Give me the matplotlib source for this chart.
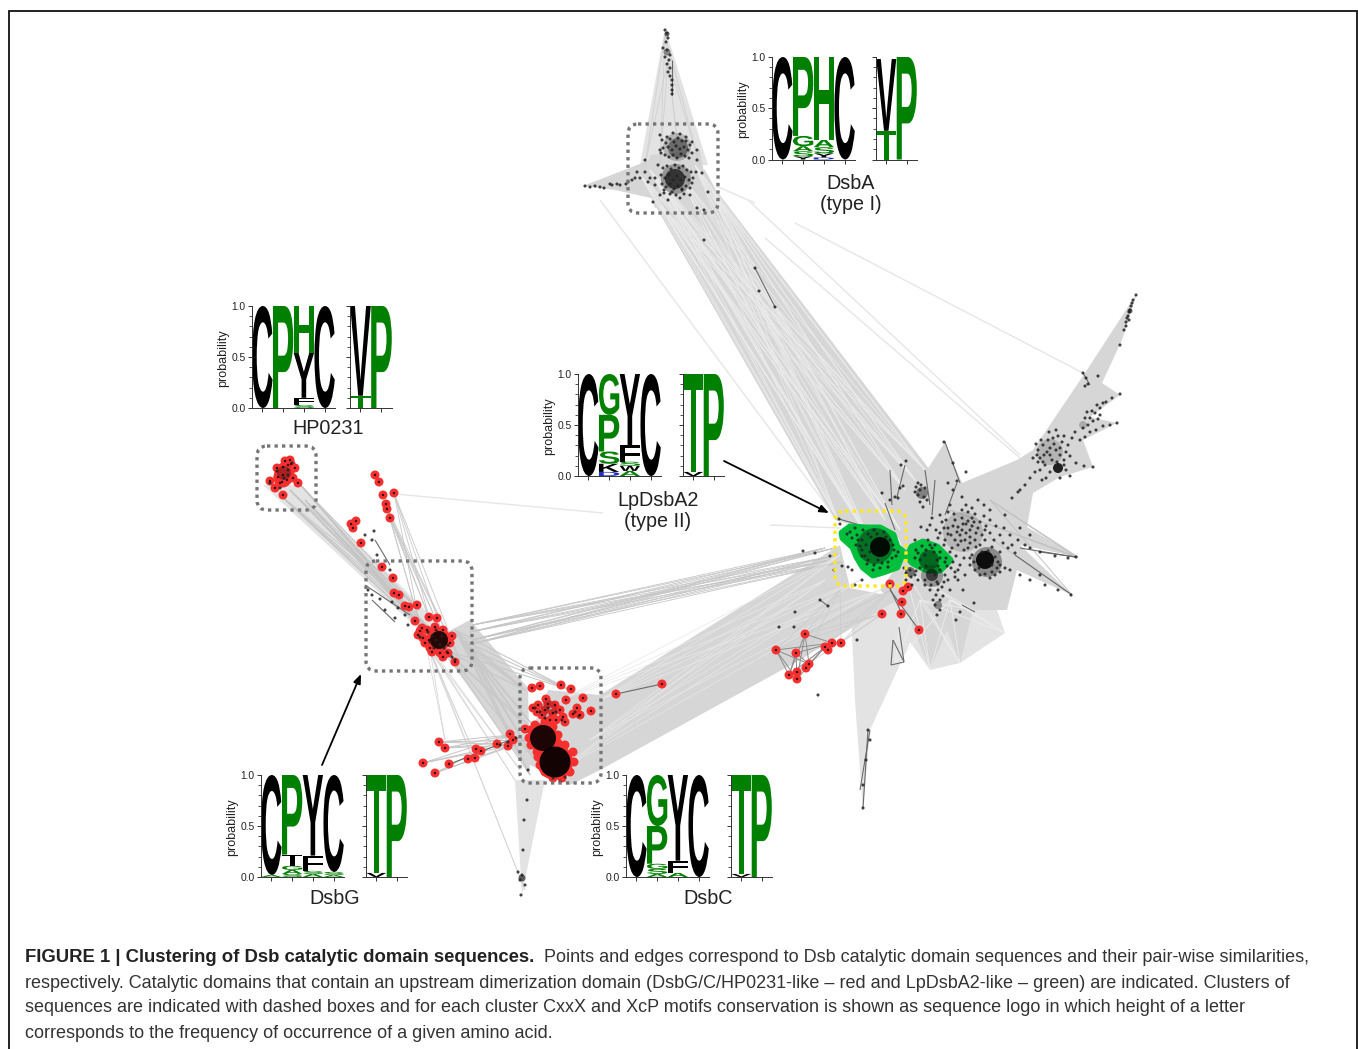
import matplotlib
matplotlib.use("Agg")
import matplotlib.pyplot as plt
from matplotlib.collections import LineCollection
from matplotlib.font_manager import FontProperties
from matplotlib.patches import Polygon, PathPatch, FancyBboxPatch, Circle, Ellipse
from matplotlib.textpath import TextPath
from matplotlib.transforms import Affine2D

plt.rcParams['font.family'] = ['Liberation Sans', 'DejaVu Sans']

# ---------- sequence logos: position stacks, bottom to top (letter, probability, colour key)
LOGO_DSBA_1 = [[('C',1,'k')],
               [('Y',.03,'k'),('S',.05,'g'),('A',.05,'g'),('G',.10,'g'),('P',.77,'g')],
               [('D',.02,'b'),('Y',.04,'k'),('S',.06,'g'),('A',.07,'g'),('H',.81,'g')],
               [('C',1,'k')]]
LOGO_DSBA_2 = [[('T',.28,'g'),('V',.70,'k')], [('P',1,'g')]]
LOGO_HP_1 = [[('C',1,'k')],
             [('P',1,'g')],
             [('S',.03,'g'),('F',.07,'k'),('Y',.44,'k'),('H',.46,'g')],
             [('C',1,'k')]]
LOGO_HP_2 = [[('T',.12,'g'),('V',.88,'k')], [('P',1,'g')]]
LOGO_LP_1 = [[('C',1,'k')],
             [('D',.04,'b'),('K',.08,'k'),('S',.12,'g'),('P',.36,'g'),('G',.40,'g')],
             [('A',.05,'g'),('W',.05,'k'),('S',.04,'g'),('F',.16,'k'),('Y',.70,'k')],
             [('C',1,'k')]]
LOGO_LP_2 = [[('V',.04,'k'),('T',.96,'g')], [('P',1,'g')]]
LOGO_G_1 = [[('A',.02,'g'),('C',.98,'k')],
            [('S',.03,'g'),('A',.04,'g'),('G',.04,'g'),('T',.11,'k'),('P',.78,'g')],
            [('A',.03,'g'),('S',.03,'g'),('F',.15,'k'),('Y',.79,'k')],
            [('A',.02,'g'),('S',.03,'g'),('C',.95,'k')]]
LOGO_G_2 = [[('V',.04,'k'),('T',.96,'g')], [('P',1,'g')]]
LOGO_C_1 = [[('C',1,'k')],
            [('A',.03,'g'),('S',.05,'g'),('G',.05,'g'),('P',.37,'g'),('G',.50,'g')],
            [('A',.04,'g'),('F',.12,'k'),('Y',.84,'k')],
            [('C',1,'k')]]
LOGO_C_2 = [[('V',.03,'k'),('T',.97,'g')], [('P',1,'g')]]

LOGO_NAMES = ['DsbA\n(type I)', 'HP0231', 'LpDsbA2\n(type II)', 'DsbG', 'DsbC']
TICK_LABELS = ['0.0', '0.5', '1.0']

# ---------- network: red nodes
RED_HP = [(270,481),(277,468),(278,477),(283,467),(290,460),(295,468),(288,465),(283,475),(280,483),
          (275,488),(283,495),(293,478),(298,483),(287,480),(282,482),(291,464),(285,461)]
RED_CHAIN = [(375,475),(379,482),(383,495),(394,493),(386,504),(387,509),(390,518),
             (356,521),(351,524),(353,528),(361,543),
             (382,567),(393,578),(394,593),(399,595),(405,606),(409,607),(417,605),(429,617),(437,618),(415,621)]
RED_G = [(422,628),(418,635),(423,638),(430,648),(452,636),(455,662),(448,653),(440,653),(435,627),(427,630),
         (443,630),(450,643),(443,657),(432,652),(425,643),(420,631),(429,640),(438,632),(446,640)]
RED_C = [(532,688),(540,686),(561,685),(571,689),(546,699),(566,700),(583,698),(591,711),(616,694),(662,684),
         (533,708),(538,705),(545,710),(555,705),(553,713),(560,710),(542,715),(550,720),(563,717),(565,722),
         (577,708),(573,714),(580,715),(525,729),(548,704),(537,712),(556,720)]
RED_C_RING = [(531,730),(535,725),(545,722),(553,727),(558,735),(558,743),(553,750),(547,754),(537,752),(531,745),(529,738),
              (545,750),(555,748),(565,745),(573,752),(574,762),(570,772),(562,778),(553,778),(545,772),(540,765),(538,757)]
RED_BL = [(439,742),(445,748),(423,763),(449,764),(435,773),(468,759),(475,758),(476,749),(481,751),(497,744),
          (508,746),(510,734),(513,740)]
RED_R = [(890,584),(903,591),(908,587),(902,602),(901,614),(882,614),(919,630),(805,634),(776,650),(796,653),
         (825,647),(828,650),(832,643),(841,643),(809,664),(806,668),(797,672),(789,675),(797,679)]

# ---------- network: black nodes
BLK_MAIN = [(930,525),(936,530),(942,522),(948,528),(951,535),(945,540),(938,538),(955,520),(958,527),(962,518),
 (966,524),(970,530),(974,522),(978,528),(982,535),(986,526),(990,533),(960,535),(965,540),(958,545),(952,548),
 (968,548),(975,540),(980,545),(972,555),(964,558),(956,556),(950,552),(944,545),(935,545),(962,510),(968,512),
 (975,514),(984,516),(990,520),(996,526),(1000,535),(994,540),(1004,528),(1010,535),(1018,540),(1025,545),(1008,548),
 (1000,552),(1015,553),(1030,548),(1040,552),(1055,556),(1068,558),(1076,557),(984,505),(978,500),(990,510),(1005,515),
 (1020,528),(1030,535),(1000,565),(1010,570),(1020,575),(1030,580),(1045,585),(1058,590),(1071,595),(1040,575),
 (1000,572),(1005,568),(995,575),(990,578),(975,570),(980,575),(970,565),(960,565),(953,562),(947,566),(955,572),
 (948,580),(942,587),(950,590),(958,580),(938,590),(936,595),(940,600),(935,605),(940,610),(937,615),(933,600),(943,596),
 (932,518),(940,515),(948,512),(954,514),(946,520),(962,530),(955,540),(972,518),(980,522),(985,530),(970,537),(964,550),
 (985,540),(992,547),(1003,543),(1012,545),(927,530),(921,527),(915,540),(928,540),(966,505),(972,508),(962,497),(950,505),
 (915,575),(910,570),(918,580),(925,585),(906,580),(912,585),(945,575),(965,575),(963,590),(974,603),(960,612),(956,620),
 (968,521),(972,526),(976,533),(963,524),(957,532),(953,526),(948,534),(944,528),(940,533),(966,533),(970,543),(961,541),
 (976,547),(982,552),(988,551),(995,557),(998,562),(997,568),(992,572),(985,574),(979,568),(974,562),(970,558),(992,565),
 (940,552),(946,558),(951,568),(955,577),(958,570),(940,570),(944,582),(938,584),(906,573),(904,568),(911,577),(916,571),
 (920,568),(925,580),(931,585),(937,582),(930,590),(935,575),(928,572)]
BLK_UP = [(916,487),(920,490),(925,488),(918,495),(924,497),(927,500),(920,502),(923,507),(918,483),(921,485),(915,492),
 (944,442),(953,463),(957,481),(953,490),(966,472),(903,486),(898,498),(900,488),(906,461),(890,500),(948,483)]
BLK_R = [(1033,458),(1038,450),(1043,445),(1048,440),(1053,438),(1058,436),(1062,442),(1068,445),(1072,438),(1075,432),
 (1038,462),(1044,455),(1050,448),(1056,450),(1060,455),(1066,452),(1045,465),(1052,460),(1040,470),(1035,472),(1030,478),
 (1025,485),(1020,490),(1050,472),(1046,478),(1042,480),(1064,460),(1070,456),(1080,440),(1085,437),(1090,432),(1096,430),
 (1103,426),(1110,425),(1117,423),(1090,418),(1095,413),(1100,408),(1106,402),(1112,398),(1120,394),(1085,418),(1092,411),
 (1083,373),(1086,378),(1088,384),(1085,386),(1098,376),(1120,345),(1124,330),(1127,318),(1129,312),(1131,306),(1133,300),
 (1136,295),(1128,316),(1130,310),(1076,463),(1084,466),(1093,467),(1066,470),(1060,478),(1070,476),(1018,492),(1012,498),
 (1040,458),(1047,452),(1054,444),(1041,440),(1036,444),(1060,448),(1049,432),(1056,430),(1064,436),(1043,462),(1050,455),
 (1057,462),(1064,465),(1037,455),(1088,425),(1093,421),(1098,419),(1087,412),(1097,405),(1103,403),(1083,428),(1100,415),
 (1126,322),(1132,303),(1129,320),(1126,326)]
BLK_G = [(428,632),(432,636),(436,640),(440,645),(444,648),(447,652),(430,642),(436,630),(442,636),(448,645),(434,648),
 (420,637),(452,657),(455,660),(405,615),(398,608),(392,602),(380,599),(368,590),(372,595),(385,610),(395,618),(408,625),
 (372,540),(365,535),(377,555),(390,570),(374,531),(270,483),(277,471),(288,470),(284,478),(280,488),(292,463),(288,475)]
BLK_C = [(535,708),(540,712),(548,708),(556,712),(545,718),(575,712),(579,716),(562,720),(516,738),(508,742),(500,745),
 (553,778),(560,782),(565,777),(520,880),(522,875),(518,872),(525,885),(521,895),(527,800),(524,820),(528,770),(523,850)]
BLK_A = [(665,30),(667,33),(668,38),(666,42),(663,48),(667,50),(670,55),(665,57),(669,60),(667,64),(670,68),(668,72),
 (670,76),(672,80),(672,85),(672,90),(672,94),(585,186),(595,186),(604,188),(612,185),(620,185),(626,184),(632,180),
 (640,178),(645,160),(648,182),(653,202),(708,192),(702,173),(696,172),(690,195),(680,198),(668,200),(660,195),(664,190),
 (672,192),(682,190),(692,183),(660,135),(667,137),(673,133),(680,134),(686,137),(692,142),(697,150),(660,150),(697,160),(658,165),
 (704,210),(697,208),(645,172),(637,172),(655,178),
 (662,140),(666,143),(670,139),(674,142),(678,138),(682,141),(686,141),(690,145),(663,148),(668,147),(672,150),(676,146),
 (680,149),(684,147),(688,150),(692,153),(665,155),(669,157),(673,155),(677,158),(681,154),(685,156),(689,158),(661,153),
 (663,168),(667,166),(671,169),(675,165),(679,168),(683,166),(687,170),(691,172),(661,175),(665,178),(669,175),(673,180),
 (677,176),(681,180),(685,177),(689,180),(693,178),(662,184),(666,187),(670,184),(674,189),(678,186),(682,189),(686,186),
 (690,188),(664,193),(670,194),(676,195),(684,194),(655,185),(650,178),(635,178),(628,182),(617,184),(610,184),(600,187),(590,187)]
BLK_GREEN = [(850,532),(857,535),(862,540),(868,534),(856,545),(862,550),(868,560),(874,565),(880,568),(888,562),(894,550),
 (890,540),(884,532),(874,530),(866,545),(870,552),(892,558),(878,560),(898,552),(863,530),(855,528),(926,550),(918,553),(934,552),(940,558),
 (945,562),(938,566),(926,566),(915,558),(922,546),(930,545),(847,534),(852,538),(858,540),(860,546),(865,556),(871,537),(877,534),
 (886,537),(893,545),(896,556),(888,567),(882,563),(873,570),(867,564),(862,556),(920,560),(925,555),(932,548),(937,560),(916,550)]
BLK_STRAY = [(839,519),(840,524),(834,570),(842,566),(848,567),(852,570),(830,556),(815,553),(803,551),(855,585),(862,580),
 (820,600),(828,606),(779,627),(794,627),(818,695),(857,640),(868,730),(870,740),(866,760),(863,785),(863,808),(759,291),(775,307),
 (755,268),(795,612),(704,240),(882,493),(901,465),(895,497)]

# dense blobs: centre x, centre y, radius, colour, alpha
DENSE = [(880,547,10,'k',.9),(875,546,18,'k',.4),(985,560,9,'k',.9),(987,562,15,'k',.35),(1058,468,5,'k',.85),(932,575,6,'k',.6),(932,576,11,'k',.3),
         (929,560,10,'#003a10',.65),(922,493,6,'k',.4),(963,532,20,'k',.14),(1050,452,13,'k',.16),
         (678,148,10,'k',.4),(675,179,10,'k',.65),(676,179,15,'k',.3),(677,147,14,'k',.2),(439,640,9,'k',.85),(543,738,13,'k',.88),(555,762,15.5,'k',.92),
         (284,473,7,'k',.3),(549,708,8,'k',.15),(667,52,3.5,'k',.4),(667,34,2.5,'k',.6),(522,878,3.5,'k',.6),
         (910,572,5,'k',.5),(1083,425,4,'k',.2),(1130,311,2.5,'k',.6),(938,605,4,'k',.4)]

# green clusters (outlines of the node hulls)
GREEN_1 = [(842,533),(850,527),(867,528),(880,528),(893,535),(897,547),(903,552),(897,567),(883,572),(873,575),(863,567),(857,557),(853,547),(843,538)]
GREEN_2 = [(907,557),(912,547),(923,542),(937,547),(950,560),(940,570),(927,570),(913,563)]

# ---------- edge hulls (regions saturated by pairwise edges)
HULL_DARK = [
 [(655,205),(640,165),(705,170),(716,190),(930,470),(905,540),(835,520)],
 [(583,186),(650,160),(660,200),(615,190)],
 [(650,155),(700,150),(708,195),(655,208),(645,180)],
 [(432,640),(470,620),(528,688),(530,772),(510,745),(455,668)],
 [(520,760),(548,690),(600,695),(840,545),(850,588),(900,598),(800,660),(600,770),(570,785)],
 [(907,463),(927,470),(945,442),(962,483),(1017,460),(1033,450),(1060,410),(1085,373),(1137,293),(1122,340),(1102,383),
  (1120,395),(1090,417),(1117,423),(1083,440),(1093,467),(1060,477),(1033,493),(1027,527),(1078,557),(1020,545),(1072,595),(1017,570),
  (1007,610),(973,610),(960,663),(947,630),(930,670),(907,613),(880,590),(905,555),(890,515)],
]
HULL_LIGHT = [
 [(665,28),(640,165),(708,165),(675,60)],
 [(263,485),(300,485),(440,625),(430,640)],
 [(515,780),(545,780),(522,895)],
 [(850,590),(925,610),(870,730),(863,812),(855,700)],
 [(880,600),(930,670),(960,663),(1005,633),(990,590),(900,570)],
]
# anchor sets of the long edge bundles (pairwise similarities between clusters)
BUNDLES = [
 ([(650,170),(665,190),(680,175),(695,165),(712,190),(660,205),(640,175)],
  [(838,520),(860,525),(885,520),(905,490),(925,470),(900,530),(870,540),(915,480)], .6, '#ebebeb'),
 ([(290,490),(298,482),(280,495),(305,500)], [(425,630),(440,640),(455,660),(420,610),(400,600)], .6, '#c4c4c4'),
 ([(390,518),(394,493),(386,505)], [(430,620),(445,640),(460,660),(420,625)], .6, '#c8c8c8'),
 ([(455,630),(462,640),(470,650),(445,650)], [(525,690),(535,760),(545,740),(520,720),(570,690),(530,775)], .8, '#c8c8c8'),
 ([(472,625),(470,632),(472,640),(468,645)], [(835,548),(838,555),(842,562),(825,548),(830,560)], .6, '#c6c6c6'),
 ([(430,650),(425,640)], [(445,740),(475,755),(520,770),(525,890),(515,780)], .5, '#d2d2d2'),
 ([(439,742),(445,748),(423,763),(435,773)], [(510,735),(525,740),(515,745)], .7, '#c4c4c4'),
 ([(560,700),(600,700),(560,770),(590,740)], [(840,555),(880,590),(860,580),(825,580)], .5, '#e8e8e8'),
 ([(805,634),(776,650),(796,672),(841,643)], [(882,614),(890,590),(840,590)], .5, '#cccccc'),
 ([(776,650),(805,634),(796,653),(825,647)], [(789,675),(809,664),(797,679),(832,643)], .7, '#8c8c8c'),
 ([(905,570),(920,600),(950,600)], [(930,670),(960,663),(1005,633),(973,610),(895,665)], .6, '#eeeeee'),
 ([(665,35),(668,60)], [(645,165),(660,165),(680,165),(700,165)], .6, '#d0d0d0'),
 ([(950,510),(990,500)], [(1078,557),(1072,595),(1076,557)], .7, '#c2c2c2'),
]
SINGLE_EDGES = [((395,494),(603,513)),((600,200),(830,510)),((795,223),(1083,373)),((748,200),(1020,455)),((765,238),(1020,458)),
 ((716,186),(755,203)),((770,525),(840,528))]
DARK_EDGES = [((755,268),(775,307)),((839,519),(870,528)),((890,470),(892,505)),((905,465),(897,497)),((945,442),(960,483)),
 ((868,730),(863,808)),((870,730),(860,790)),((893,640),(891,665)),((899,627),(904,662)),((891,665),(904,662)),((893,640),(904,662)),
 ((1083,373),(1090,385)),((1075,557),(1020,548)),((1072,595),(1015,555)),((1076,557),(1040,552)),((820,600),(828,606)),
 ((672,60),(672,95)),((375,540),(390,565)),((365,585),(410,615)),((372,600),(395,622)),((890,590),(919,630)),((888,584),(902,614)),
 ((885,503),(895,530)),((925,470),(930,505)),((935,480),(932,515)),((957,483),(945,515)),((962,605),(975,612)),((616,694),(662,684)),((510,740),(450,764))]

# dotted cluster boxes: x0, y0, x1, y1, colour
BOXES = [(628,124,718,213,'#757575'),(257,446,316,510,'#757575'),(366,561,472,671,'#757575'),
         (520,668,601,783,'#757575'),(835,511,906,586,'#ffe81c')]

CAPTION_BOLD = 'FIGURE 1 | Clustering of Dsb catalytic domain sequences.'
CAPTION_LINES = ['Points and edges correspond to Dsb catalytic domain sequences and their pair-wise similarities,',
 'respectively. Catalytic domains that contain an upstream dimerization domain (DsbG/C/HP0231-like \u2013 red and LpDsbA2-like \u2013 green) are indicated. Clusters of',
 'sequences are indicated with dashed boxes and for each cluster CxxX and XcP motifs conservation is shown as sequence logo in which height of a letter',
 'corresponds to the frequency of occurrence of a given amino acid.']

W, H = 1358, 1049
fig = plt.figure(figsize=(W/100, H/100), dpi=100, facecolor='white')
ax = fig.add_axes([0, 0, 1, 1])
ax.set_xlim(0, W); ax.set_ylim(H, 0); ax.axis('off')

# border
ax.plot([8.5, 8.5, 1357, 1357], [H, 10.5, 10.5, H], color='#111111', lw=1.3, zorder=1, solid_joinstyle='miter')

# edges
for poly in HULL_LIGHT:
    ax.add_patch(Polygon(poly, closed=True, fc='#e3e3e3', ec='none', zorder=2))
for poly in HULL_DARK:
    ax.add_patch(Polygon(poly, closed=True, fc='#d6d6d6', ec='none', zorder=2))
for src, dst, lw, col in BUNDLES:
    segs = [(a, b) for a in src for b in dst]
    ax.add_collection(LineCollection(segs, colors=col, linewidths=lw, zorder=3))
ax.add_collection(LineCollection(SINGLE_EDGES, colors='#e6e6e6', linewidths=1.0, zorder=3))
ax.add_collection(LineCollection(DARK_EDGES, colors='#6a6a6a', linewidths=.8, zorder=4))

def xy(pts):
    return [p[0] for p in pts], [p[1] for p in pts]

# green hulls
for g in (GREEN_1, GREEN_2):
    ax.add_patch(Polygon(g, closed=True, fc='#00bf3c', ec='#00bf3c', lw=5, joinstyle='round', zorder=5))

# red nodes
for pts in (RED_HP, RED_CHAIN, RED_G, RED_C, RED_BL, RED_R, RED_C_RING):
    ax.scatter(*xy(pts), s=42, c='#f5302f', edgecolors='none', zorder=6)
ax.add_patch(Circle((543,738), 15, fc='#f5302f', ec='none', zorder=6))
ax.add_patch(Circle((555,762), 18, fc='#f5302f', ec='none', zorder=6))
ax.add_patch(Ellipse((438,640), 24, 26, angle=30, fc='#f5302f', ec='none', zorder=6))
ax.add_patch(Ellipse((284,475), 20, 26, angle=20, fc='#f5302f', ec='none', zorder=6))

# dense cores
for x, y, r, c, a in DENSE:
    ax.add_patch(Circle((x, y), r, fc=c, alpha=a, ec='none', zorder=7))

# small nodes
for pts in (BLK_MAIN, BLK_UP, BLK_R, BLK_G, BLK_C, BLK_A, BLK_GREEN, BLK_STRAY):
    ax.scatter(*xy(pts), s=5, c='#222222', edgecolors='none', alpha=.85, zorder=8)
for pts in (RED_HP, RED_CHAIN, RED_G, RED_C, RED_BL, RED_R):
    ax.scatter(*xy(pts), s=3, c='#300000', edgecolors='none', zorder=8)

# boxes
for x0, y0, x1, y1, c in BOXES:
    ax.add_patch(FancyBboxPatch((x0+9, y0+9), x1-x0-18, y1-y0-18, boxstyle='round,pad=9,rounding_size=10',
                                fc='none', ec=c, lw=2.4, ls=(0, (1, 1.25)), zorder=9))

# arrows
for start, end in (((724,461),(829,513)), ((322,765),(361,674))):
    ax.annotate('', xy=end, xytext=start, zorder=10,
                arrowprops=dict(arrowstyle='-|>,head_width=.22,head_length=.55', color='k', lw=1.3, shrinkA=0, shrinkB=0))

# logos
COL = {'k':'#000000','g':'#008000','b':'#2030c0'}
FP = FontProperties(family='Liberation Sans', weight='bold')

def stack(a, logo):
    for i, pos in enumerate(logo):
        y0 = 0
        for letter, h, c in pos:
            tp = TextPath((0, 0), letter, size=1, prop=FP)
            bb = tp.get_extents()
            tr = (Affine2D().translate(-bb.x0, -bb.y0).scale(.98/bb.width, h/bb.height)
                  .translate(i + .51, y0) + a.transData)
            a.add_patch(PathPatch(tp, fc=COL[c], ec='none', transform=tr))
            y0 += h

def pax(x0, x1, ytop, ybot):
    return fig.add_axes([x0/W, 1-ybot/H, (x1-x0)/W, (ybot-ytop)/H], facecolor='none', zorder=20)

def logo(ax1_x, ax1_end, ax2_x, ax2_end, ytop, ybot, l1, l2):
    a = pax(ax1_x, ax1_end, ytop, ybot)
    a.set_xlim(.5, 4.5); a.set_ylim(0, 1)
    stack(a, l1)
    a.set_xticks([1, 2, 3, 4]); a.set_xticklabels([])
    a.set_yticks([0, .5, 1]); a.set_yticklabels(TICK_LABELS, fontsize=7.4, color='#222222')
    a.set_yticks([.1,.2,.3,.4,.6,.7,.8,.9], minor=True)
    a.tick_params(axis='both', which='major', length=3.2, width=.7, pad=1.5, color='#333333')
    a.tick_params(axis='y', which='minor', length=2, width=.6, color='#333333')
    a.set_ylabel('probability', fontsize=9, color='#222222', labelpad=1)
    a.yaxis.set_label_coords(-.275, .49)
    b = pax(ax2_x, ax2_end, ytop, ybot)
    b.set_xlim(.5, 2.5); b.set_ylim(0, 1)
    stack(b, l2)
    b.set_xticks([1, 2]); b.set_xticklabels([])
    b.set_yticks([0, .5, 1]); b.set_yticklabels([])
    b.set_yticks([.1,.2,.3,.4,.6,.7,.8,.9], minor=True)
    b.tick_params(axis='both', which='major', length=3.2, width=.7, color='#333333')
    b.tick_params(axis='y', which='minor', length=2, width=.6, color='#333333')
    for aa in (a, b):
        for s in ('top', 'right'):
            aa.spines[s].set_visible(False)
        for s in ('left', 'bottom'):
            aa.spines[s].set_linewidth(.7); aa.spines[s].set_color('#333333')

logo(772, 855, 876, 917, 57, 159.5, LOGO_DSBA_1, LOGO_DSBA_2)
logo(252, 335, 350, 392, 306, 408, LOGO_HP_1, LOGO_HP_2)
logo(578, 661, 683, 724, 374, 476, LOGO_LP_1, LOGO_LP_2)
logo(261, 344, 366, 407, 775, 877, LOGO_G_1, LOGO_G_2)
logo(626, 709, 731, 772, 775, 877, LOGO_C_1, LOGO_C_2)

for name, (x, y) in zip(LOGO_NAMES, [(851,194),(328,428),(658,511),(335,899),(708,899)]):
    ax.text(x, y, name, ha='center', va='center', fontsize=14.2, color='#222222', linespacing=1.15, zorder=10)

# caption
ax.text(25, 958, CAPTION_BOLD, fontsize=13.35, fontweight='bold', color='#222222', va='center', ha='left')
ax.text(544, 958, CAPTION_LINES[0], fontsize=13.0, color='#333333', va='center', ha='left')
for y, line in zip((983, 1008, 1034), CAPTION_LINES[1:]):
    ax.text(25, y, line, fontsize=13.0, color='#333333', va='center', ha='left')

fig.savefig('out.png', dpi=100)
